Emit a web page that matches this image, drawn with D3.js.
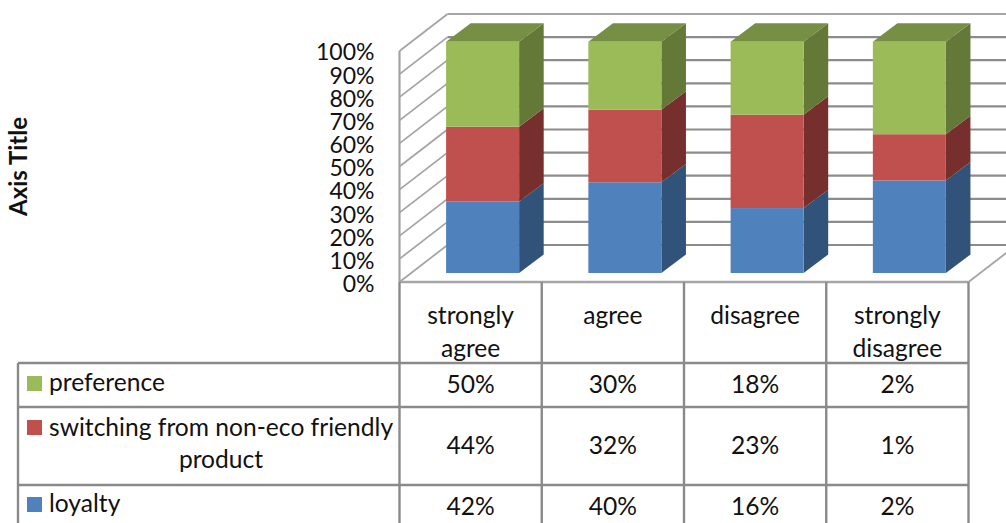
<!DOCTYPE html>
<html>
<head>
<meta charset="utf-8">
<script src="https://cdn.jsdelivr.net/npm/d3@7/dist/d3.min.js"></script>
<style>
  html, body { margin: 0; padding: 0; background: #fff; overflow: hidden; }
  svg { display: block; }
  text { font-family: Lato, "Open Sans", sans-serif; fill: #111; }
</style>
</head>
<body>
<svg id="chart" width="1006" height="523"></svg>
<script>
// Survey responses, in percent, per answer category.
const categories = ["strongly agree", "agree", "disagree", "strongly disagree"];
const loyalty = [42, 40, 16, 2];
const switching = [44, 32, 23, 1];
const preference = [50, 30, 18, 2];
const seriesNames = ["loyalty", "switching", "preference"];
const axisTicks = [0, 0.1, 0.2, 0.3, 0.4, 0.5, 0.6, 0.7, 0.8, 0.9, 1];
const axisTitle = "Axis Title";

const width = 1006, height = 523;
const svg = d3.select("#chart");

const rows = categories.map((c, i) => ({
  category: c,
  loyalty: loyalty[i],
  switching: switching[i],
  preference: preference[i]
}));
const stacked = d3.stack().keys(seriesNames).offset(d3.stackOffsetExpand)(rows);

// Plot geometry: the oblique box has a front plane and a back plane.
const left = 399.5, right = 968.5;
const wallDx = 48, wallDy = -37;
const barDx = 24.6, barDy = -18.4;
const x = d3.scaleBand().domain(categories).range([left, right]);
const barWidth = 73, barInset = 46.6;
const yFront = d3.scaleLinear().domain([0, 1]).range([282, 51]);
const yBack = d3.scaleLinear().domain([0, 1]).range([282 + wallDy, 51 + wallDy]);
const yBar = d3.scaleLinear().domain([0, 1]).range([273, 41.7]);

const palette = {
  loyalty: { front: "#4f81bd", side: "#31537a" },
  switching: { front: "#c0504d", side: "#772f2d" },
  preference: { front: "#9bbb59", side: "#647837", top: "#768f44" }
};

const grid = "#8c8c8c";

// Back wall gridlines and side wall diagonals.
const walls = svg.append("g").attr("fill", "none");
walls.selectAll("line.back").data(axisTicks).join("line")
  .attr("class", "back")
  .attr("x1", left + wallDx).attr("x2", width)
  .attr("y1", d => yBack(d)).attr("y2", d => yBack(d))
  .attr("stroke", d => d === 1 ? "#a6a6a6" : grid)
  .attr("stroke-width", 2.2);
walls.selectAll("line.side").data(axisTicks).join("line")
  .attr("class", "side")
  .attr("x1", left).attr("x2", left + wallDx)
  .attr("y1", d => yFront(d)).attr("y2", d => yBack(d))
  .attr("stroke", "#a3a3a3")
  .attr("stroke-width", 1.7);
walls.append("line")
  .attr("x1", right).attr("x2", right + wallDx)
  .attr("y1", yFront(0)).attr("y2", yBack(0))
  .attr("stroke", "#a3a3a3").attr("stroke-width", 1.7);

// Stacked 3-D columns: side face, top face, then front face.
const bars = svg.append("g");
stacked.forEach(layer => {
  const colors = palette[layer.key];
  const g = bars.append("g");
  g.selectAll("path.side").data(layer).join("path")
    .attr("class", "side")
    .attr("fill", colors.side)
    .attr("d", d => {
      const xr = x(d.data.category) + barInset + barWidth;
      return d3.line()([
        [xr, yBar(d[0])], [xr + barDx, yBar(d[0]) + barDy],
        [xr + barDx, yBar(d[1]) + barDy], [xr, yBar(d[1])]
      ]) + "Z";
    });
  if (colors.top) {
    g.selectAll("path.top").data(layer).join("path")
      .attr("class", "top")
      .attr("fill", colors.top)
      .attr("d", d => {
        const xl = x(d.data.category) + barInset;
        const yt = yBar(d[1]);
        return d3.line()([
          [xl, yt], [xl + barWidth, yt],
          [xl + barWidth + barDx, yt + barDy], [xl + barDx, yt + barDy]
        ]) + "Z";
      });
  }
  g.selectAll("rect.front").data(layer).join("rect")
    .attr("class", "front")
    .attr("fill", colors.front)
    .attr("x", d => x(d.data.category) + barInset)
    .attr("width", barWidth)
    .attr("y", d => yBar(d[1]))
    .attr("height", d => yBar(d[0]) - yBar(d[1]));
});

// Value axis labels and the front vertical edge.
const yAxis = svg.append("g")
  .attr("transform", `translate(${left},0)`)
  .call(d3.axisLeft(yFront).tickValues(axisTicks).tickFormat(d3.format(".0%")).tickSize(0).tickPadding(25));
yAxis.select(".domain").remove();
yAxis.selectAll("text")
  .attr("font-size", 23)
  .style("font-family", "Lato, sans-serif")
  .attr("dy", "0.36em")
  .attr("transform", d => `translate(0,${(d - 0.5) * -0.6 + 1})`);
svg.append("line")
  .attr("x1", left).attr("x2", left)
  .attr("y1", yFront(1)).attr("y2", yFront(0))
  .attr("stroke", "#a3a3a3").attr("stroke-width", 2.2);

svg.append("text")
  .attr("transform", "translate(27,166.5) rotate(-90)")
  .attr("text-anchor", "middle")
  .attr("font-size", 24)
  .attr("font-weight", 700)
  .text(axisTitle);

// Data table beneath the plot.
const tableY = [282, 363, 407, 485];
const legendLeft = 18;
const tableLine = "#8a8a8a";
const table = svg.append("g");
table.selectAll("line.h").data(tableY).join("line")
  .attr("class", "h")
  .attr("x1", (d, i) => i === 0 ? left : legendLeft).attr("x2", right)
  .attr("y1", d => d).attr("y2", d => d)
  .attr("stroke", (d, i) => i === 0 ? "#a6a6a6" : tableLine)
  .attr("stroke-width", 2.4);
const columnEdges = categories.map(c => x(c)).concat([right]);
table.selectAll("line.v").data(columnEdges).join("line")
  .attr("class", "v")
  .attr("x1", d => d).attr("x2", d => d)
  .attr("y1", 282).attr("y2", height)
  .attr("stroke", tableLine).attr("stroke-width", 2.4);
table.append("line")
  .attr("x1", legendLeft).attr("x2", legendLeft)
  .attr("y1", 363).attr("y2", height)
  .attr("stroke", tableLine).attr("stroke-width", 2.4);

const cellFont = 24.6;
const headerLines = { "strongly agree": ["strongly", "agree"], "agree": ["agree"], "disagree": ["disagree"], "strongly disagree": ["strongly", "disagree"] };
const headerBaselines = [324, 357];
categories.forEach(c => {
  headerLines[c].forEach((line, i) => {
    table.append("text")
      .attr("x", x(c) + x.bandwidth() / 2)
      .attr("y", headerBaselines[i])
      .attr("text-anchor", "middle")
      .attr("font-size", cellFont)
      .text(line);
  });
});

const tableRows = [
  { key: "preference", values: preference, swatchY: 376, valueY: 393, labelLines: [[49, 391, "start", "preference"]] },
  { key: "switching", values: switching, swatchY: 420, valueY: 454, labelLines: [[49, 436, "start", "switching from non-eco friendly"], [221, 468, "middle", "product"]] },
  { key: "loyalty", values: loyalty, swatchY: 497, valueY: 515, labelLines: [[49, 512, "start", "loyalty"]] }
];
tableRows.forEach(row => {
  table.append("rect")
    .attr("x", 27).attr("y", row.swatchY)
    .attr("width", 15).attr("height", 15)
    .attr("fill", palette[row.key].front);
  row.labelLines.forEach(([lx, ly, anchor, line]) => {
    table.append("text")
      .attr("x", lx).attr("y", ly)
      .attr("text-anchor", anchor)
      .attr("font-size", cellFont)
      .text(line);
  });
  row.values.forEach((v, i) => {
    table.append("text")
      .attr("x", x(categories[i]) + x.bandwidth() / 2)
      .attr("y", row.valueY)
      .attr("text-anchor", "middle")
      .attr("font-size", cellFont)
      .text(v + "%");
  });
});
</script>
</body>
</html>
